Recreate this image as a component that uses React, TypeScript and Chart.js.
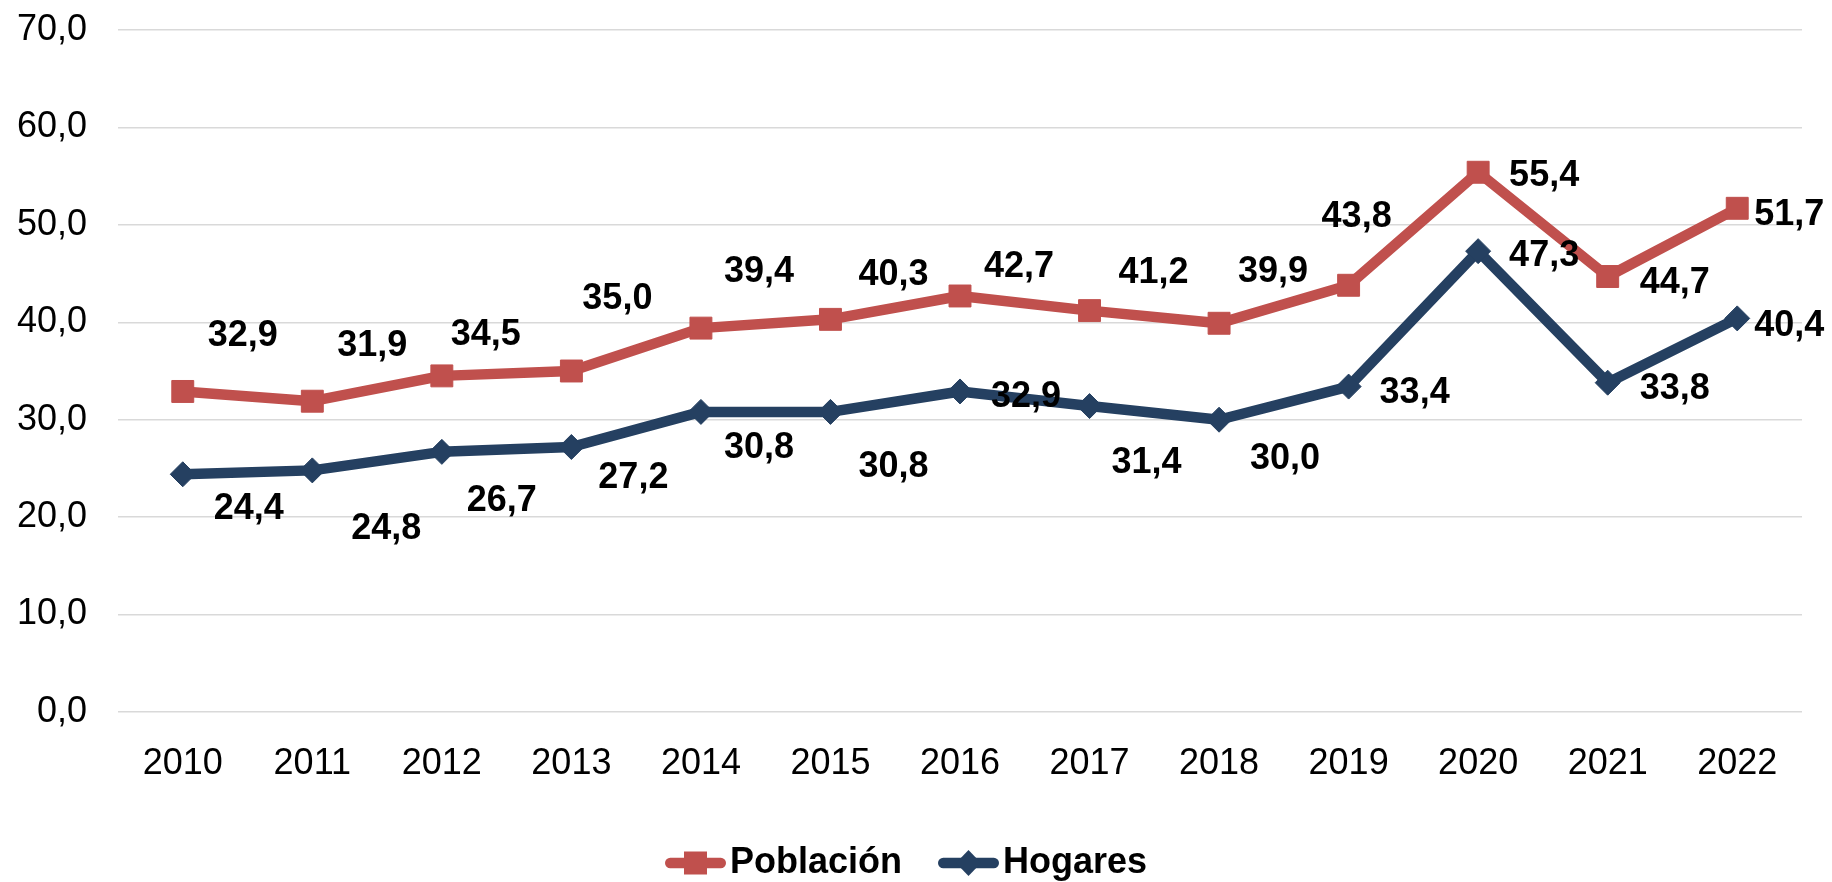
import React, { useEffect, useRef } from 'react';
import { Chart, registerables } from 'chart.js';

Chart.register(...registerables);

// ---- data ----
const years = ['2010', '2011', '2012', '2013', '2014', '2015', '2016', '2017', '2018', '2019', '2020', '2021', '2022'];
const poblacion = [32.9, 31.9, 34.5, 35.0, 39.4, 40.3, 42.7, 41.2, 39.9, 43.8, 55.4, 44.7, 51.7];
const hogares = [24.4, 24.8, 26.7, 27.2, 30.8, 30.8, 32.9, 31.4, 30.0, 33.4, 47.3, 33.8, 40.4];
const seriesNames = ['Población', 'Hogares'];
const yMin = 0;
const yMax = 70;
const yStep = 10;

// ---- styling / layout ----
const RED = '#C0504D';
const NAVY = '#254061';
const FAMILY = '"Liberation Sans", Arial, sans-serif';
const TICK_FONT = { family: FAMILY, size: 36 };
const LEGEND_FONT = { family: FAMILY, size: 36, weight: 'bold' as const };
const LABEL_FONT_SIZE = 36;
const LABEL_FONT = `bold ${LABEL_FONT_SIZE}px ${FAMILY}`;
const LINE_W = 10.5;

// label nudges (pixels relative to each point), per series
const LABEL_NUDGE: number[][][] = [
  [[60, -58], [60, -58], [44, -44], [46, -75], [58, -59], [63, -47], [59, -32], [64, -40], [54, -54], [8, -71], [66, 1], [67, 4], [52, 4]],
  [[66, 32], [74, 56], [60, 46], [62, 28], [58, 33], [63, 52], [66, 3], [57, 54], [66, 36], [66, 4], [66, 2], [67, 3], [52, 5]],
];

const fmt = (v: number) => v.toFixed(1).replace('.', ',');

const labelPlugin = {
  id: 'pointValueLabels',
  afterLayout(chart: any) {
    // nudge legend block slightly right, as in the original
    if (chart.legend) {
      chart.legend.left += 24;
    }
  },
  afterDatasetsDraw(chart: any) {
    const ctx = chart.ctx as CanvasRenderingContext2D;
    ctx.save();
    ctx.font = LABEL_FONT;
    ctx.fillStyle = '#000';
    ctx.textAlign = 'center';
    ctx.textBaseline = 'alphabetic';
    const capHalf = (LABEL_FONT_SIZE * 0.716) / 2;
    chart.data.datasets.forEach((ds: any, i: number) => {
      const meta = chart.getDatasetMeta(i);
      meta.data.forEach((pt: any, j: number) => {
        const [dx, dy] = LABEL_NUDGE[i][j];
        ctx.fillText(fmt(ds.data[j]), pt.x + dx, pt.y + dy + capHalf);
      });
    });
    ctx.restore();
  },
};

function legendIcon(color: string, kind: 'rect' | 'diamond') {
  const c = document.createElement('canvas');
  c.width = 61;
  c.height = 28;
  const g = c.getContext('2d')!;
  g.strokeStyle = color;
  g.fillStyle = color;
  g.lineWidth = LINE_W;
  g.lineCap = 'round';
  g.beginPath();
  g.moveTo(LINE_W / 2, 14);
  g.lineTo(61 - LINE_W / 2, 14);
  g.stroke();
  if (kind === 'rect') {
    g.fillRect(30.5 - 11.5, 14 - 11.5, 23, 23);
  } else {
    g.beginPath();
    g.moveTo(30.5, 1);
    g.lineTo(43, 14);
    g.lineTo(30.5, 27);
    g.lineTo(18, 14);
    g.closePath();
    g.fill();
  }
  return c;
}

export default function App() {
  const ref = useRef<HTMLCanvasElement>(null);

  useEffect(() => {
    document.body.style.margin = '0';
    const icons = [legendIcon(RED, 'rect'), legendIcon(NAVY, 'diamond')];
    const chart = new Chart(ref.current!, {
      type: 'line',
      data: {
        labels: years,
        datasets: [
          {
            label: seriesNames[0],
            data: poblacion,
            borderColor: RED,
            backgroundColor: RED,
            borderWidth: LINE_W,
            borderJoinStyle: 'round',
            borderCapStyle: 'round',
            pointStyle: 'rect',
            pointRadius: 15.5,
            pointBorderWidth: 1,
            pointBackgroundColor: RED,
            pointBorderColor: RED,
            tension: 0,
          },
          {
            label: seriesNames[1],
            data: hogares,
            borderColor: NAVY,
            backgroundColor: NAVY,
            borderWidth: LINE_W,
            borderJoinStyle: 'round',
            borderCapStyle: 'round',
            pointStyle: 'rectRot',
            pointRadius: 12.5,
            pointBorderWidth: 1,
            pointBackgroundColor: NAVY,
            pointBorderColor: NAVY,
            tension: 0,
          },
        ],
      },
      options: {
        responsive: false,
        animation: false,
        events: [],
        layout: { padding: { top: 30, right: 30, left: 0, bottom: 0 } },
        plugins: {
          tooltip: { enabled: false },
          legend: {
            position: 'bottom',
            labels: {
              usePointStyle: true,
              pointStyleWidth: 33,
              padding: 50,
              color: '#000',
              font: LEGEND_FONT,
              generateLabels: (ch: any) =>
                Chart.defaults.plugins.legend.labels
                  .generateLabels(ch)
                  .map((item: any, i: number) => ({ ...item, pointStyle: icons[i] })),
            },
          },
        },
        scales: {
          x: {
            offset: true,
            grid: { display: false },
            border: { display: false },
            ticks: { font: TICK_FONT, color: '#000', padding: 22, maxRotation: 0, autoSkip: false },
            afterFit: (s: any) => {
              s.height = 83;
              s.paddingLeft = 0;
              s.paddingRight = 0;
            },
          },
          y: {
            min: yMin,
            max: yMax,
            grid: { color: '#D9D9D9', lineWidth: 1.5, drawTicks: false },
            border: { display: false },
            ticks: {
              stepSize: yStep,
              font: TICK_FONT,
              color: '#000',
              padding: 31,
              callback: (v: any) => fmt(Number(v)),
            },
            afterFit: (s: any) => {
              s.width = 118;
              s.paddingTop = 0;
              s.paddingBottom = 0;
            },
          },
        },
      },
      plugins: [labelPlugin],
    });
    return () => chart.destroy();
  }, []);

  return (
    <div style={{ width: 1832, height: 882, overflow: 'hidden', position: 'relative', background: '#fff' }}>
      <canvas ref={ref} width={1832} height={891} style={{ display: 'block' }} />
    </div>
  );
}
